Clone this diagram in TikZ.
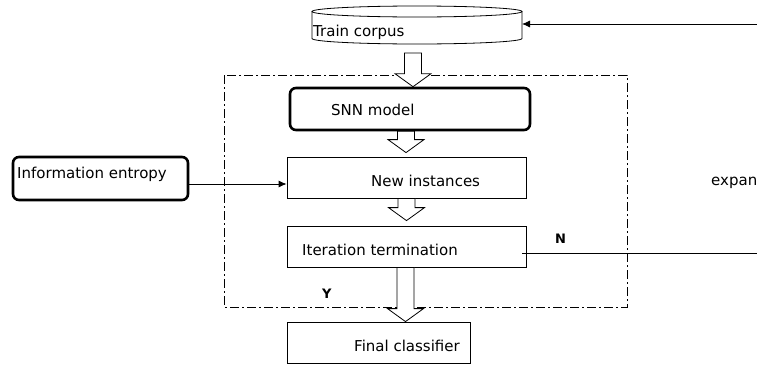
\documentclass[tikz,border=0pt]{standalone}
\usepackage{fontspec}
\setmainfont{DejaVu Sans}
\usetikzlibrary{arrows.meta,calc}

\tikzset{
  box/.style={draw, line width=0.8pt, minimum height=41pt, inner sep=0pt},
  boldbox/.style={draw, line width=2.6pt, rounded corners=6pt, inner sep=0pt},
  txt/.style={anchor=base west, inner sep=0pt, font=\fontsize{15}{18}\selectfont},
  mark label/.style={anchor=base west, inner sep=0pt, font=\fontsize{13}{15}\selectfont\bfseries},
  frame/.style={line width=0.8pt, dash pattern=on 9pt off 3pt on 2pt off 3pt},
  feed/.style={line width=0.8pt}
}

% hollow block arrow, from the top point down to the tip
\newcommand\hollowarrow[2]{%
  \draw[fill=white, line width=0.8pt] let \p1=#1, \p2=#2 in
    (\x1-8.5pt,\y1) -- (\x1+8.5pt,\y1) -- (\x1+8.5pt,\y2+13pt)
    -- (\x1+18pt,\y2+13pt) -- (\x1,\y2) -- (\x1-18pt,\y2+13pt)
    -- (\x1-8.5pt,\y2+13pt) -- cycle;}

\begin{document}
\begin{tikzpicture}[x=1pt,y=-1pt]
  \useasboundingbox (0,0) rectangle (757,367);

  % dash-dotted frame
  \draw[frame] (224,75) rectangle (627,307);

  % train corpus (cylinder)
  \draw[line width=0.8pt] (417,11.5) ellipse [x radius=105pt, y radius=5.5pt];
  \draw[line width=0.8pt] (312,11.5) -- (312,38.5)
      arc [start angle=180, end angle=360, x radius=105pt, y radius=5.5pt]
      -- (522,11.5);
  \node[txt] (corpus) at (313,36.5) {Train corpus};
  \coordinate (cylright) at (522,24);
  \coordinate (cylbot) at (413,53);
  \coordinate (feedin) at (757,24);

  % boxes
  \node[boldbox, minimum width=240pt, minimum height=42pt] (snn) at (410,109) {};
  \node[txt] (snntxt) at (331,115) {SNN model};

  \node[boldbox, minimum width=175pt, minimum height=43pt] (ent) at (100.5,178.5) {};
  \node[txt] (enttxt) at (17,178) {Information entropy};

  \node[box, minimum width=239pt] (new) at (406.5,177.5) {};
  \node[txt] (newtxt) at (371,186) {New instances};

  \node[box, minimum width=239pt] (iter) at (406.5,246.5) {};
  \node[txt] (itertxt) at (302,255) {Iteration termination};

  \node[box, minimum width=183pt] (final) at (378.5,342.5) {};
  \node[txt] (finaltxt) at (354,351) {Final classifier};

  \node[txt] (expand) at (711,185) {expand};
  \coordinate (feedout) at (757,253);

  % block arrows
  \hollowarrow{(cylbot)}{(snn.north -| cylbot)}
  \hollowarrow{([xshift=-4pt]snn.south)}{([xshift=-4pt,yshift=4pt]new.north -| snn.south)}
  \hollowarrow{(new.south)}{([yshift=5pt]iter.north)}
  \hollowarrow{([xshift=-1pt]iter.south)}{([xshift=-1pt]iter.south |- final.north)}

  % connectors
  \draw[feed, -{Latex[length=8pt,width=7pt]}] ([yshift=-5.5pt]ent.east) -- ([yshift=-6.5pt]new.west);
  \draw[feed, -{Latex[length=8pt,width=7pt]}] (feedin) -- (cylright);
  \draw[feed] ([xshift=-4pt,yshift=-6.5pt]iter.east) -- (feedout);

  \node[mark label] (nlabel) at (555,243) {N};
  \node[mark label] (ylabel) at (322,298) {Y};
\end{tikzpicture}
\end{document}
